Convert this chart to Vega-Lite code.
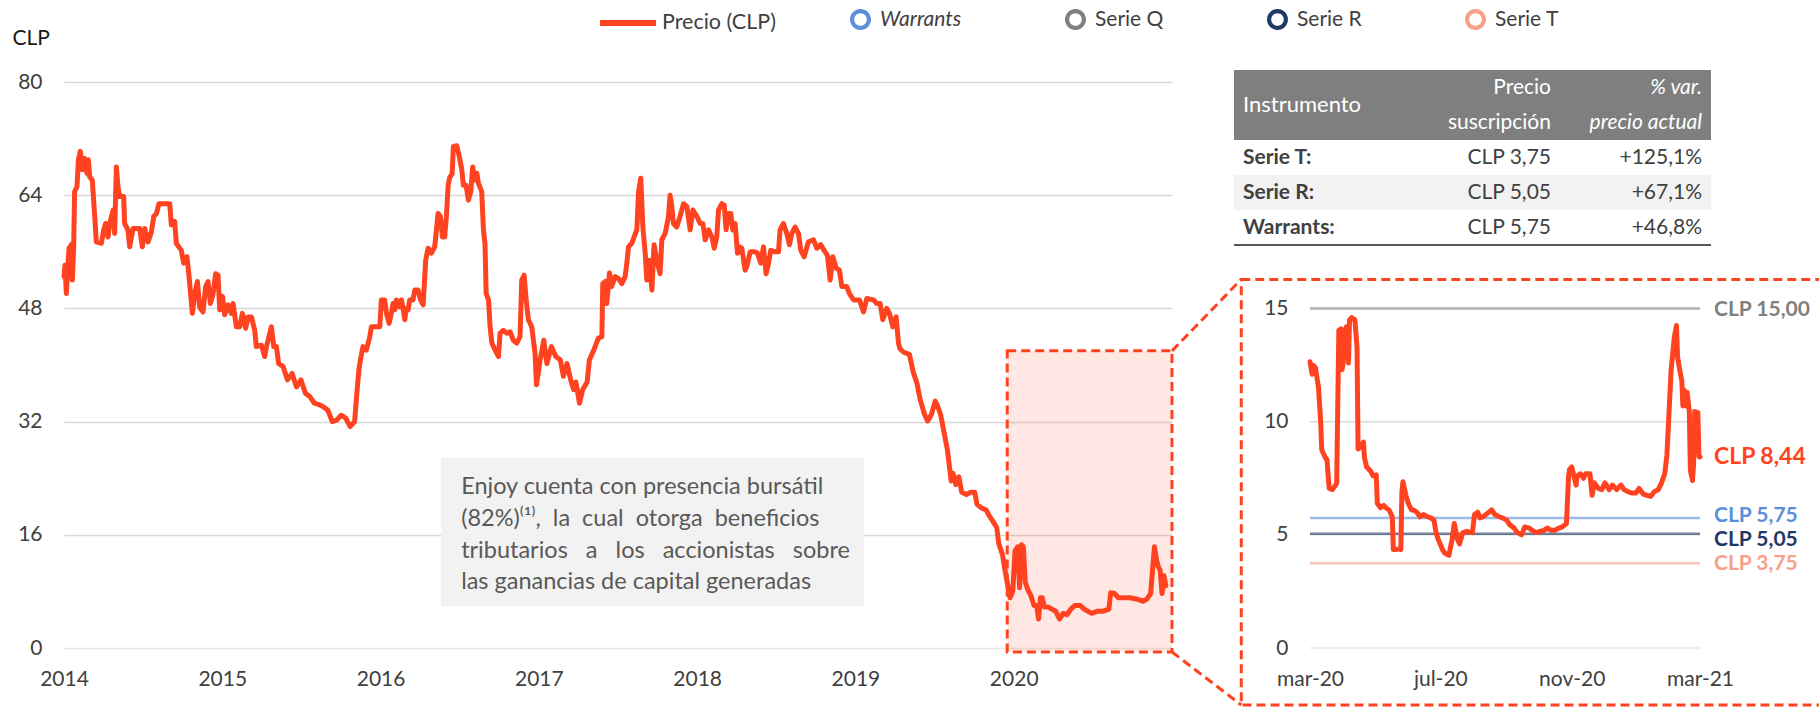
{
"$schema":"https://vega.github.io/schema/vega-lite/v6.json",
"width":1108,"height":566,
"autosize":{"type":"none"},
"padding":{"left":64,"top":82,"right":647,"bottom":61},
"background":"white",
"config":{"view":{"stroke":null},"font":"Lato","axis":{"labelFont":"Lato","labelFontSize":21,"labelColor":"#404040","titleFont":"Lato"},"legend":{"labelFont":"Lato"}},
"datasets":{
"precio":[
{"t":2014.000,"v":52.5},{"t":2014.006,"v":54.1},{"t":2014.015,"v":50.1},{"t":2014.025,"v":54.3},{"t":2014.032,"v":56.5},{"t":2014.046,"v":57.0},{"t":2014.053,"v":52.0},{"t":2014.061,"v":56.7},{"t":2014.067,"v":64.5},{"t":2014.082,"v":65.2},{"t":2014.091,"v":69.0},{"t":2014.103,"v":70.2},{"t":2014.116,"v":67.6},{"t":2014.131,"v":69.2},{"t":2014.145,"v":67.1},{"t":2014.154,"v":69.0},{"t":2014.162,"v":66.6},{"t":2014.179,"v":66.1},{"t":2014.194,"v":61.0},{"t":2014.204,"v":57.4},{"t":2014.236,"v":57.2},{"t":2014.251,"v":59.1},{"t":2014.263,"v":60.0},{"t":2014.278,"v":58.1},{"t":2014.289,"v":60.0},{"t":2014.310,"v":61.9},{"t":2014.320,"v":58.6},{"t":2014.331,"v":68.0},{"t":2014.341,"v":65.2},{"t":2014.352,"v":63.8},{"t":2014.377,"v":63.8},{"t":2014.383,"v":60.0},{"t":2014.404,"v":59.1},{"t":2014.415,"v":56.7},{"t":2014.436,"v":59.3},{"t":2014.478,"v":59.3},{"t":2014.495,"v":56.7},{"t":2014.510,"v":59.3},{"t":2014.531,"v":57.4},{"t":2014.552,"v":58.8},{"t":2014.567,"v":61.0},{"t":2014.584,"v":61.4},{"t":2014.600,"v":62.8},{"t":2014.668,"v":62.8},{"t":2014.678,"v":59.8},{"t":2014.699,"v":60.3},{"t":2014.710,"v":57.2},{"t":2014.741,"v":56.2},{"t":2014.756,"v":54.4},{"t":2014.777,"v":55.3},{"t":2014.790,"v":52.5},{"t":2014.811,"v":47.3},{"t":2014.826,"v":50.1},{"t":2014.843,"v":51.8},{"t":2014.857,"v":48.2},{"t":2014.878,"v":47.5},{"t":2014.895,"v":51.1},{"t":2014.910,"v":51.8},{"t":2014.925,"v":48.7},{"t":2014.942,"v":50.1},{"t":2014.958,"v":52.9},{"t":2014.973,"v":52.7},{"t":2014.984,"v":47.8},
{"t":2015.001,"v":49.7},{"t":2015.015,"v":47.1},{"t":2015.036,"v":48.5},{"t":2015.057,"v":47.3},{"t":2015.068,"v":48.7},{"t":2015.089,"v":45.4},{"t":2015.110,"v":45.4},{"t":2015.127,"v":47.3},{"t":2015.148,"v":45.2},{"t":2015.163,"v":46.8},{"t":2015.184,"v":46.8},{"t":2015.205,"v":44.9},{"t":2015.215,"v":42.6},{"t":2015.247,"v":42.8},{"t":2015.268,"v":41.2},{"t":2015.279,"v":42.6},{"t":2015.295,"v":44.0},{"t":2015.310,"v":45.4},{"t":2015.325,"v":42.6},{"t":2015.342,"v":42.6},{"t":2015.356,"v":40.2},{"t":2015.384,"v":39.8},{"t":2015.412,"v":37.9},{"t":2015.441,"v":38.8},{"t":2015.469,"v":36.9},{"t":2015.497,"v":37.9},{"t":2015.525,"v":36.0},{"t":2015.554,"v":35.5},{"t":2015.582,"v":34.6},{"t":2015.610,"v":34.4},{"t":2015.638,"v":34.1},{"t":2015.667,"v":33.6},{"t":2015.695,"v":32.0},{"t":2015.723,"v":32.2},{"t":2015.751,"v":32.9},{"t":2015.780,"v":32.5},{"t":2015.808,"v":31.3},{"t":2015.836,"v":32.0},{"t":2015.850,"v":36.0},{"t":2015.864,"v":39.5},{"t":2015.875,"v":41.0},{"t":2015.889,"v":42.6},{"t":2015.910,"v":42.1},{"t":2015.932,"v":44.0},{"t":2015.942,"v":45.4},{"t":2015.963,"v":45.4},{"t":2015.995,"v":45.4},
{"t":2016.005,"v":49.2},{"t":2016.026,"v":49.2},{"t":2016.037,"v":47.3},{"t":2016.054,"v":45.9},{"t":2016.068,"v":47.3},{"t":2016.079,"v":48.7},{"t":2016.090,"v":47.8},{"t":2016.100,"v":49.2},{"t":2016.121,"v":48.2},{"t":2016.132,"v":49.2},{"t":2016.142,"v":48.0},{"t":2016.153,"v":46.4},{"t":2016.163,"v":48.0},{"t":2016.174,"v":47.8},{"t":2016.184,"v":49.2},{"t":2016.205,"v":49.2},{"t":2016.216,"v":50.6},{"t":2016.237,"v":50.6},{"t":2016.252,"v":49.2},{"t":2016.269,"v":48.5},{"t":2016.285,"v":54.8},{"t":2016.300,"v":56.5},{"t":2016.321,"v":55.8},{"t":2016.342,"v":56.7},{"t":2016.353,"v":59.1},{"t":2016.363,"v":61.4},{"t":2016.378,"v":61.0},{"t":2016.391,"v":58.1},{"t":2016.405,"v":58.1},{"t":2016.416,"v":61.0},{"t":2016.427,"v":65.4},{"t":2016.437,"v":66.5},{"t":2016.452,"v":67.0},{"t":2016.460,"v":70.9},{"t":2016.481,"v":71.0},{"t":2016.498,"v":69.4},{"t":2016.513,"v":67.6},{"t":2016.523,"v":65.4},{"t":2016.540,"v":65.4},{"t":2016.555,"v":63.3},{"t":2016.570,"v":64.5},{"t":2016.582,"v":68.0},{"t":2016.597,"v":66.1},{"t":2016.608,"v":67.1},{"t":2016.618,"v":65.7},{"t":2016.639,"v":64.5},{"t":2016.650,"v":59.1},{"t":2016.660,"v":57.0},{"t":2016.667,"v":50.1},{"t":2016.682,"v":49.2},{"t":2016.692,"v":45.4},{"t":2016.703,"v":43.1},{"t":2016.724,"v":42.1},{"t":2016.745,"v":41.2},{"t":2016.755,"v":44.5},{"t":2016.776,"v":44.9},{"t":2016.797,"v":44.5},{"t":2016.818,"v":44.7},{"t":2016.839,"v":43.5},{"t":2016.860,"v":43.1},{"t":2016.881,"v":44.0},{"t":2016.892,"v":52.0},{"t":2016.907,"v":52.7},{"t":2016.920,"v":49.2},{"t":2016.934,"v":46.4},{"t":2016.955,"v":45.4},{"t":2016.976,"v":41.6},{"t":2016.985,"v":37.2},
{"t":2017.008,"v":40.7},{"t":2017.031,"v":43.5},{"t":2017.051,"v":40.2},{"t":2017.079,"v":42.6},{"t":2017.107,"v":41.2},{"t":2017.136,"v":40.7},{"t":2017.155,"v":38.4},{"t":2017.178,"v":40.2},{"t":2017.201,"v":37.9},{"t":2017.220,"v":36.5},{"t":2017.234,"v":37.6},{"t":2017.257,"v":34.6},{"t":2017.277,"v":36.5},{"t":2017.305,"v":37.6},{"t":2017.319,"v":40.7},{"t":2017.347,"v":42.1},{"t":2017.376,"v":43.8},{"t":2017.398,"v":44.0},{"t":2017.404,"v":51.5},{"t":2017.419,"v":51.8},{"t":2017.429,"v":48.7},{"t":2017.446,"v":53.0},{"t":2017.460,"v":51.1},{"t":2017.482,"v":52.5},{"t":2017.503,"v":52.2},{"t":2017.524,"v":51.5},{"t":2017.545,"v":52.5},{"t":2017.556,"v":54.4},{"t":2017.566,"v":56.7},{"t":2017.587,"v":57.2},{"t":2017.602,"v":58.1},{"t":2017.619,"v":59.1},{"t":2017.630,"v":64.5},{"t":2017.644,"v":66.4},{"t":2017.657,"v":59.5},{"t":2017.672,"v":55.8},{"t":2017.682,"v":52.0},{"t":2017.699,"v":54.8},{"t":2017.714,"v":50.6},{"t":2017.728,"v":57.0},{"t":2017.745,"v":54.8},{"t":2017.766,"v":52.9},{"t":2017.777,"v":57.7},{"t":2017.798,"v":58.6},{"t":2017.819,"v":61.0},{"t":2017.829,"v":64.0},{"t":2017.840,"v":62.4},{"t":2017.850,"v":60.0},{"t":2017.871,"v":59.5},{"t":2017.892,"v":61.0},{"t":2017.914,"v":62.8},{"t":2017.935,"v":62.4},{"t":2017.956,"v":59.1},{"t":2017.973,"v":61.9},{"t":2017.998,"v":61.0},
{"t":2018.019,"v":60.0},{"t":2018.036,"v":60.0},{"t":2018.051,"v":57.7},{"t":2018.072,"v":59.1},{"t":2018.093,"v":58.1},{"t":2018.108,"v":56.5},{"t":2018.124,"v":58.1},{"t":2018.135,"v":61.9},{"t":2018.156,"v":62.8},{"t":2018.171,"v":62.6},{"t":2018.183,"v":59.1},{"t":2018.198,"v":61.4},{"t":2018.213,"v":61.4},{"t":2018.225,"v":59.1},{"t":2018.240,"v":60.0},{"t":2018.255,"v":55.8},{"t":2018.267,"v":56.7},{"t":2018.282,"v":56.5},{"t":2018.303,"v":53.4},{"t":2018.314,"v":53.9},{"t":2018.335,"v":56.0},{"t":2018.366,"v":56.0},{"t":2018.381,"v":55.8},{"t":2018.402,"v":54.4},{"t":2018.419,"v":56.7},{"t":2018.436,"v":52.9},{"t":2018.451,"v":54.4},{"t":2018.465,"v":56.2},{"t":2018.493,"v":56.0},{"t":2018.514,"v":56.0},{"t":2018.524,"v":59.1},{"t":2018.545,"v":60.0},{"t":2018.566,"v":58.6},{"t":2018.583,"v":57.0},{"t":2018.598,"v":58.6},{"t":2018.619,"v":59.5},{"t":2018.640,"v":58.6},{"t":2018.655,"v":56.2},{"t":2018.676,"v":55.3},{"t":2018.703,"v":57.4},{"t":2018.735,"v":57.7},{"t":2018.756,"v":56.5},{"t":2018.781,"v":57.0},{"t":2018.802,"v":56.2},{"t":2018.823,"v":55.5},{"t":2018.840,"v":52.0},{"t":2018.857,"v":55.3},{"t":2018.878,"v":53.7},{"t":2018.899,"v":53.4},{"t":2018.914,"v":51.1},{"t":2018.945,"v":51.1},{"t":2018.962,"v":50.1},{"t":2018.988,"v":49.2},
{"t":2019.026,"v":49.2},{"t":2019.051,"v":47.5},{"t":2019.072,"v":49.4},{"t":2019.114,"v":49.2},{"t":2019.135,"v":48.7},{"t":2019.156,"v":48.7},{"t":2019.173,"v":46.4},{"t":2019.198,"v":48.0},{"t":2019.215,"v":47.3},{"t":2019.236,"v":45.4},{"t":2019.257,"v":46.8},{"t":2019.272,"v":43.1},{"t":2019.281,"v":42.3},{"t":2019.305,"v":41.8},{"t":2019.341,"v":41.5},{"t":2019.365,"v":39.0},{"t":2019.389,"v":37.4},{"t":2019.408,"v":35.2},{"t":2019.437,"v":33.0},{"t":2019.456,"v":32.1},{"t":2019.480,"v":33.0},{"t":2019.504,"v":34.9},{"t":2019.521,"v":34.1},{"t":2019.538,"v":33.0},{"t":2019.557,"v":30.8},{"t":2019.581,"v":28.0},{"t":2019.593,"v":25.8},{"t":2019.605,"v":23.6},{"t":2019.617,"v":24.7},{"t":2019.634,"v":23.1},{"t":2019.653,"v":24.2},{"t":2019.672,"v":22.0},{"t":2019.701,"v":21.7},{"t":2019.730,"v":22.0},{"t":2019.754,"v":22.0},{"t":2019.768,"v":20.3},{"t":2019.797,"v":19.8},{"t":2019.826,"v":19.5},{"t":2019.845,"v":18.7},{"t":2019.869,"v":17.9},{"t":2019.893,"v":17.0},{"t":2019.905,"v":14.8},{"t":2019.929,"v":13.2},{"t":2019.941,"v":11.5},{"t":2019.960,"v":9.1},{"t":2019.977,"v":7.1},{"t":2019.994,"v":8.0},
{"t":2020.008,"v":13.7},{"t":2020.025,"v":14.3},{"t":2020.037,"v":8.5},{"t":2020.049,"v":14.6},{"t":2020.061,"v":14.3},{"t":2020.073,"v":9.3},{"t":2020.090,"v":8.2},{"t":2020.109,"v":7.4},{"t":2020.128,"v":6.0},{"t":2020.145,"v":6.0},{"t":2020.157,"v":4.1},{"t":2020.169,"v":7.1},{"t":2020.181,"v":7.1},{"t":2020.193,"v":5.8},{"t":2020.217,"v":5.8},{"t":2020.241,"v":5.5},{"t":2020.265,"v":5.2},{"t":2020.289,"v":4.1},{"t":2020.313,"v":4.9},{"t":2020.337,"v":4.7},{"t":2020.361,"v":5.5},{"t":2020.385,"v":6.0},{"t":2020.421,"v":6.0},{"t":2020.445,"v":5.5},{"t":2020.469,"v":5.2},{"t":2020.493,"v":4.9},{"t":2020.529,"v":5.2},{"t":2020.565,"v":5.2},{"t":2020.601,"v":5.5},{"t":2020.613,"v":7.8},{"t":2020.637,"v":7.7},{"t":2020.661,"v":7.1},{"t":2020.685,"v":7.1},{"t":2020.733,"v":7.1},{"t":2020.781,"v":6.9},{"t":2020.817,"v":6.6},{"t":2020.841,"v":6.9},{"t":2020.865,"v":7.7},{"t":2020.877,"v":11.0},{"t":2020.889,"v":14.3},{"t":2020.901,"v":12.6},{"t":2020.913,"v":11.5},{"t":2020.925,"v":11.0},{"t":2020.937,"v":7.7},{"t":2020.949,"v":10.2},{"t":2020.961,"v":8.8}
],
"zoom":[
{"d":"2020-03-01","v":12.65},{"d":"2020-03-03","v":12.1},{"d":"2020-03-04","v":12.5},{"d":"2020-03-06","v":12.4},{"d":"2020-03-09","v":11.5},{"d":"2020-03-11","v":10.0},{"d":"2020-03-12","v":8.75},{"d":"2020-03-15","v":8.45},{"d":"2020-03-17","v":8.3},{"d":"2020-03-18","v":7.6},{"d":"2020-03-19","v":7.05},{"d":"2020-03-22","v":7.0},{"d":"2020-03-25","v":7.2},{"d":"2020-03-26","v":7.3},{"d":"2020-03-27","v":10.8},{"d":"2020-03-28","v":14.05},{"d":"2020-03-30","v":14.1},{"d":"2020-03-31","v":12.3},{"d":"2020-04-01","v":12.6},{"d":"2020-04-02","v":13.9},{"d":"2020-04-04","v":14.2},{"d":"2020-04-06","v":12.6},{"d":"2020-04-07","v":14.5},{"d":"2020-04-09","v":14.6},{"d":"2020-04-12","v":14.5},{"d":"2020-04-14","v":13.3},{"d":"2020-04-15","v":8.8},{"d":"2020-04-18","v":8.9},{"d":"2020-04-20","v":9.1},{"d":"2020-04-21","v":8.4},{"d":"2020-04-23","v":8.0},{"d":"2020-04-27","v":7.8},{"d":"2020-04-29","v":7.6},{"d":"2020-05-02","v":7.65},{"d":"2020-05-03","v":6.4},{"d":"2020-05-06","v":6.2},{"d":"2020-05-09","v":6.3},{"d":"2020-05-11","v":6.2},{"d":"2020-05-14","v":6.1},{"d":"2020-05-17","v":5.8},{"d":"2020-05-18","v":4.35},{"d":"2020-05-20","v":4.35},{"d":"2020-05-23","v":4.38},{"d":"2020-05-25","v":4.35},{"d":"2020-05-26","v":6.9},{"d":"2020-05-27","v":7.35},{"d":"2020-05-30","v":6.7},{"d":"2020-06-01","v":6.4},{"d":"2020-06-04","v":6.1},{"d":"2020-06-06","v":6.1},{"d":"2020-06-09","v":6.0},{"d":"2020-06-12","v":5.8},{"d":"2020-06-15","v":5.9},{"d":"2020-06-19","v":5.8},{"d":"2020-06-22","v":5.75},{"d":"2020-06-25","v":5.65},{"d":"2020-06-27","v":5.1},{"d":"2020-06-29","v":4.8},{"d":"2020-07-03","v":4.35},{"d":"2020-07-05","v":4.2},{"d":"2020-07-09","v":4.1},{"d":"2020-07-12","v":4.8},{"d":"2020-07-14","v":5.5},{"d":"2020-07-17","v":4.8},{"d":"2020-07-19","v":4.6},{"d":"2020-07-22","v":5.1},{"d":"2020-07-26","v":5.15},{"d":"2020-07-31","v":5.1},{"d":"2020-08-02","v":5.9},{"d":"2020-08-05","v":6.0},{"d":"2020-08-07","v":5.75},{"d":"2020-08-10","v":5.8},{"d":"2020-08-14","v":5.95},{"d":"2020-08-18","v":6.1},{"d":"2020-08-21","v":5.9},{"d":"2020-08-25","v":5.8},{"d":"2020-08-28","v":5.75},{"d":"2020-09-01","v":5.65},{"d":"2020-09-04","v":5.45},{"d":"2020-09-08","v":5.3},{"d":"2020-09-11","v":5.1},{"d":"2020-09-15","v":5.0},{"d":"2020-09-18","v":5.35},{"d":"2020-09-22","v":5.3},{"d":"2020-09-25","v":5.2},{"d":"2020-09-29","v":5.1},{"d":"2020-10-02","v":5.15},{"d":"2020-10-06","v":5.2},{"d":"2020-10-09","v":5.3},{"d":"2020-10-13","v":5.2},{"d":"2020-10-16","v":5.2},{"d":"2020-10-20","v":5.3},{"d":"2020-10-23","v":5.35},{"d":"2020-10-27","v":5.5},{"d":"2020-10-29","v":7.6},{"d":"2020-10-30","v":7.9},{"d":"2020-11-01","v":8.0},{"d":"2020-11-03","v":7.6},{"d":"2020-11-05","v":7.2},{"d":"2020-11-06","v":7.6},{"d":"2020-11-09","v":7.7},{"d":"2020-11-12","v":7.5},{"d":"2020-11-14","v":7.7},{"d":"2020-11-18","v":7.7},{"d":"2020-11-20","v":6.75},{"d":"2020-11-22","v":7.3},{"d":"2020-11-26","v":7.05},{"d":"2020-11-29","v":7.0},{"d":"2020-12-02","v":7.3},{"d":"2020-12-06","v":7.0},{"d":"2020-12-09","v":7.2},{"d":"2020-12-13","v":7.0},{"d":"2020-12-17","v":7.2},{"d":"2020-12-20","v":7.0},{"d":"2020-12-24","v":6.9},{"d":"2020-12-27","v":6.85},{"d":"2020-12-31","v":6.85},{"d":"2021-01-03","v":7.05},{"d":"2021-01-07","v":6.8},{"d":"2021-01-10","v":6.75},{"d":"2021-01-14","v":6.7},{"d":"2021-01-17","v":6.9},{"d":"2021-01-21","v":7.0},{"d":"2021-01-24","v":7.3},{"d":"2021-01-27","v":7.7},{"d":"2021-01-29","v":8.5},{"d":"2021-01-31","v":10.4},{"d":"2021-02-02","v":12.3},{"d":"2021-02-05","v":13.75},{"d":"2021-02-07","v":14.25},{"d":"2021-02-08","v":12.85},{"d":"2021-02-10","v":12.3},{"d":"2021-02-12","v":11.8},{"d":"2021-02-13","v":10.7},{"d":"2021-02-14","v":11.4},{"d":"2021-02-16","v":10.7},{"d":"2021-02-17","v":11.3},{"d":"2021-02-19","v":10.45},{"d":"2021-02-20","v":7.85},{"d":"2021-02-22","v":7.4},{"d":"2021-02-23","v":8.15},{"d":"2021-02-24","v":10.45},{"d":"2021-02-27","v":10.4},{"d":"2021-02-28","v":8.45},{"d":"2021-03-01","v":8.44}
],
"instrumentos":[
{"instr":"Serie Q","precio":15.00,"etiqueta":"CLP 15,00"},
{"instr":"Warrants","precio":5.75,"etiqueta":"CLP 5,75"},
{"instr":"Serie R","precio":5.05,"etiqueta":"CLP 5,05"},
{"instr":"Serie T","precio":3.75,"etiqueta":"CLP 3,75"}
],
"tabla":[
{"fila":"T","instrumento":"Serie T:","precio":"CLP 3,75","var":"+125,1%"},
{"fila":"R","instrumento":"Serie R:","precio":"CLP 5,05","var":"+67,1%"},
{"fila":"W","instrumento":"Warrants:","precio":"CLP 5,75","var":"+46,8%"}
]
},
"layer":[
{
"layer":[
{"data":{"values":[{}]},"mark":{"type":"rect","fill":"#ff4321","fillOpacity":0.12,"stroke":"#ff4321","strokeWidth":3,"strokeDash":[9,5]},
 "encoding":{"x":{"datum":2019.959,"type":"quantitative"},"x2":{"datum":2021.0},"y":{"datum":42.0,"type":"quantitative"},"y2":{"datum":-0.56}}},
{"data":{"values":[{}]},"mark":{"type":"rect","fill":"#f2f2f2"},
 "encoding":{"x":{"datum":2016.382,"type":"quantitative"},"x2":{"datum":2019.055},"y":{"datum":26.84,"type":"quantitative"},"y2":{"datum":5.93}}},
{"data":{"values":[{}]},"mark":{"type":"text","align":"left","baseline":"middle","fontSize":23.5,"lineHeight":31.7,"color":"#595959"},
 "encoding":{"x":{"datum":2016.509,"type":"quantitative"},"y":{"datum":22.74,"type":"quantitative"},
 "text":{"value":["Enjoy cuenta con presencia bursátil","(82%)⁽¹⁾,\u00a0 la\u00a0 cual\u00a0 otorga\u00a0 beneficios","tributarios\u00a0\u00a0 a\u00a0\u00a0 los\u00a0\u00a0 accionistas\u00a0\u00a0 sobre","las ganancias de capital generadas"]}}},
{"data":{"name":"precio"},"mark":{"type":"line","strokeWidth":5,"strokeJoin":"round","strokeCap":"round"},
 "encoding":{
 "x":{"field":"t","type":"quantitative","scale":{"domain":[2014,2021],"nice":false,"zero":false},
  "axis":{"values":[2014,2015,2016,2017,2018,2019,2020],"format":"d","title":null,"domain":false,"ticks":false,"grid":false,"labelPadding":20,"labelFlush":false,"labelOverlap":false}},
 "y":{"field":"v","type":"quantitative","scale":{"domain":[0,80],"nice":false,"zero":false},
  "axis":{"values":[0,16,32,48,64,80],"title":"CLP","titleAngle":0,"titleAlign":"left","titleBaseline":"middle","titleX":-52,"titleY":-44,"titleFontSize":21,"titleFontWeight":"normal","titleColor":"#1a1a1a","domain":false,"ticks":false,"grid":true,"gridColor":{"condition":{"test":"datum.value === 0","value":"#ebe7dc"},"value":"#d9d9d9"},"gridWidth":1.5,"labelPadding":22}},
 "stroke":{"datum":"Precio (CLP)","type":"nominal","scale":{"range":["#ff4321"]},
  "legend":{"orient":"none","legendX":533,"legendY":-90,"title":null,"padding":0,"symbolType":"stroke","symbolSize":3136,"symbolStrokeWidth":6,"labelFont":"Lato","labelFontSize":21.5,"labelColor":"#404040","labelOffset":3,"labelLimit":0}}
 }},
{"data":{"values":[{}]},"mark":{"type":"rule","color":"#ff4321","strokeWidth":3,"strokeDash":[9,5]},
 "encoding":{"x":{"datum":2021.0,"type":"quantitative"},"y":{"datum":42.0,"type":"quantitative"},"x2":{"datum":2021.4377},"y2":{"datum":52.1}}},
{"data":{"values":[{}]},"mark":{"type":"rule","color":"#ff4321","strokeWidth":3,"strokeDash":[9,5]},
 "encoding":{"x":{"datum":2021.0,"type":"quantitative"},"y":{"datum":-0.56,"type":"quantitative"},"x2":{"datum":2021.4377},"y2":{"datum":-8.05}}},
{"data":{"values":[{}]},"mark":{"type":"rect","fill":null,"fillOpacity":0,"stroke":"#ff4321","strokeWidth":3,"strokeDash":[9,5]},
 "encoding":{"x":{"datum":2021.4377,"type":"quantitative"},"x2":{"datum":2025.3},"y":{"datum":52.1,"type":"quantitative"},"y2":{"datum":-8.05}}}
]
},
{
"layer":[
{"data":{"values":[{"g":0},{"g":5},{"g":10}]},"mark":{"type":"rule","strokeWidth":1.5},
 "encoding":{"x":{"datum":{"year":2020,"month":3,"date":1,"utc":true},"type":"temporal"},"x2":{"datum":{"year":2021,"month":3,"date":1,"utc":true}},
 "y":{"field":"g","type":"quantitative"},
 "color":{"condition":{"test":"datum.g === 0","value":"#ebe7dc"},"value":"#d9d9d9"}}},
{"data":{"name":"instrumentos"},"mark":{"type":"rule","strokeWidth":2.5,"opacity":0.62},
 "encoding":{"x":{"datum":{"year":2020,"month":3,"date":1,"utc":true},"type":"temporal"},"x2":{"datum":{"year":2021,"month":3,"date":1,"utc":true}},
 "y":{"field":"precio","type":"quantitative"},
 "color":{"field":"instr","type":"nominal","scale":{"domain":["Warrants","Serie Q","Serie R","Serie T"],"range":["#5b8fd9","#808080","#1f3864","#f7a08a"]},
  "legend":{"orient":"none","legendX":786,"legendY":-73,"direction":"horizontal","columns":4,"title":null,"padding":0,"symbolType":"M -1 0 A 1 1 0 1 1 1 0 A 1 1 0 1 1 -1 0 Z M -0.6 0 A 0.6 0.6 0 1 0 0.6 0 A 0.6 0.6 0 1 0 -0.6 0 Z","symbolSize":440,"symbolStrokeWidth":0,"symbolOpacity":1,"labelFont":"Lato","labelFontSize":21,"labelColor":"#404040","labelOffset":9,"labelLimit":0,"columnPadding":103,
   "encode":{"labels":{"update":{"fontStyle":{"signal":"datum.value === 'Warrants' ? 'italic' : 'normal'"}}}}}}}},
{"data":{"name":"instrumentos"},"transform":[{"filter":"datum.instr === 'Serie Q' || datum.instr === 'Serie T'"}],"mark":{"type":"text","align":"left","baseline":"middle","dx":14,"dy":1,"fontSize":21,"fontWeight":"bold"},
 "encoding":{"x":{"datum":{"year":2021,"month":3,"date":1,"utc":true},"type":"temporal"},"y":{"field":"precio","type":"quantitative"},"text":{"field":"etiqueta"},
 "color":{"field":"instr","type":"nominal","legend":null}}},
{"data":{"name":"instrumentos"},"transform":[{"filter":"datum.instr === 'Warrants'"}],"mark":{"type":"text","align":"left","baseline":"middle","dx":14,"dy":-2,"fontSize":21,"fontWeight":"bold"},
 "encoding":{"x":{"datum":{"year":2021,"month":3,"date":1,"utc":true},"type":"temporal"},"y":{"field":"precio","type":"quantitative"},"text":{"field":"etiqueta"},
 "color":{"field":"instr","type":"nominal","legend":null}}},
{"data":{"name":"instrumentos"},"transform":[{"filter":"datum.instr === 'Serie R'"}],"mark":{"type":"text","align":"left","baseline":"middle","dx":14,"dy":6,"fontSize":21,"fontWeight":"bold"},
 "encoding":{"x":{"datum":{"year":2021,"month":3,"date":1,"utc":true},"type":"temporal"},"y":{"field":"precio","type":"quantitative"},"text":{"field":"etiqueta"},
 "color":{"field":"instr","type":"nominal","legend":null}}},
{"data":{"name":"zoom"},"mark":{"type":"line","color":"#ff4321","strokeWidth":5,"strokeJoin":"round","strokeCap":"round"},
 "encoding":{
 "x":{"field":"d","type":"temporal","scale":{"type":"utc","domain":[{"year":2020,"month":3,"date":1,"utc":true},{"year":2021,"month":3,"date":1,"utc":true}],"range":[1246,1636],"nice":false},
  "axis":{"orient":"bottom","values":[{"year":2020,"month":3,"date":1,"utc":true},{"year":2020,"month":7,"date":1,"utc":true},{"year":2020,"month":11,"date":1,"utc":true},{"year":2021,"month":3,"date":1,"utc":true}],"labelExpr":"lower(utcFormat(datum.value, '%b-%y'))","title":null,"domain":false,"ticks":false,"grid":false,"labelPadding":20,"labelFlush":false,"labelOverlap":false}},
 "y":{"field":"v","type":"quantitative","scale":{"domain":[0,15],"range":[566,226.6],"nice":false,"zero":false},
  "axis":{"orient":"left","offset":-1246,"values":[0,5,10,15],"title":null,"domain":false,"ticks":false,"grid":false,"labelPadding":22}}
 }},
{"data":{"values":[{}]},"mark":{"type":"text","align":"left","baseline":"middle","dx":14,"fontSize":23,"fontWeight":"bold","color":"#ff4321"},
 "encoding":{"x":{"datum":{"year":2021,"month":3,"date":1,"utc":true},"type":"temporal"},"y":{"datum":8.44,"type":"quantitative"},"text":{"value":"CLP 8,44"}}}
]
},
{
"layer":[
{"data":{"values":[{"fila":"h1"},{"fila":"h2"}]},"mark":{"type":"rect","color":"#7f7f7f"},
 "encoding":{"x":{"datum":"c1","type":"nominal","scale":{"type":"point","domain":["c1","sp","c2","c3"],"range":[1170,1647],"padding":0},"axis":null},"x2":{"datum":"c3"},
 "y":{"field":"fila","type":"nominal","scale":{"type":"band","domain":["h1","h2","T","R","W"],"range":[-12,163],"paddingInner":0,"paddingOuter":0},"axis":null}}},
{"data":{"values":[{"fila":"R"}]},"mark":{"type":"rect","color":"#f2f2f2"},
 "encoding":{"x":{"datum":"c1","type":"nominal"},"x2":{"datum":"c3"},"y":{"field":"fila","type":"nominal"}}},
{"data":{"values":[{}]},"mark":{"type":"rule","color":"#595959","strokeWidth":2},
 "encoding":{"x":{"datum":"c1","type":"nominal"},"x2":{"datum":"c3"},"y":{"datum":"W","type":"nominal","bandPosition":1}}},
{"data":{"values":[{"fila":"h1","texto":"Instrumento"}]},"mark":{"type":"text","align":"left","baseline":"middle","dx":9,"dy":17.5,"fontSize":22,"color":"white"},
 "encoding":{"x":{"datum":"c1","type":"nominal"},"y":{"field":"fila","type":"nominal"},"text":{"field":"texto"}}},
{"data":{"values":[{"fila":"h1","texto":"Precio"},{"fila":"h2","texto":"suscripción"}]},"mark":{"type":"text","align":"right","baseline":"middle","dx":-1,"fontSize":21,"color":"white"},
 "encoding":{"x":{"datum":"c2","type":"nominal"},"y":{"field":"fila","type":"nominal"},"text":{"field":"texto"}}},
{"data":{"values":[{"fila":"h1","texto":"% var."},{"fila":"h2","texto":"precio actual"}]},"mark":{"type":"text","align":"right","baseline":"middle","dx":-9,"fontSize":21,"fontStyle":"italic","color":"white"},
 "encoding":{"x":{"datum":"c3","type":"nominal"},"y":{"field":"fila","type":"nominal"},"text":{"field":"texto"}}},
{"data":{"name":"tabla"},"mark":{"type":"text","align":"left","baseline":"middle","dx":9,"fontSize":21,"fontWeight":"bold","color":"#404040"},
 "encoding":{"x":{"datum":"c1","type":"nominal"},"y":{"field":"fila","type":"nominal"},"text":{"field":"instrumento"}}},
{"data":{"name":"tabla"},"mark":{"type":"text","align":"right","baseline":"middle","dx":-1,"fontSize":21,"color":"#404040"},
 "encoding":{"x":{"datum":"c2","type":"nominal"},"y":{"field":"fila","type":"nominal"},"text":{"field":"precio"}}},
{"data":{"name":"tabla"},"mark":{"type":"text","align":"right","baseline":"middle","dx":-9,"fontSize":21,"color":"#404040"},
 "encoding":{"x":{"datum":"c3","type":"nominal"},"y":{"field":"fila","type":"nominal"},"text":{"field":"var"}}}
]
}
],
"resolve":{"scale":{"x":"independent","y":"independent"}}
}
